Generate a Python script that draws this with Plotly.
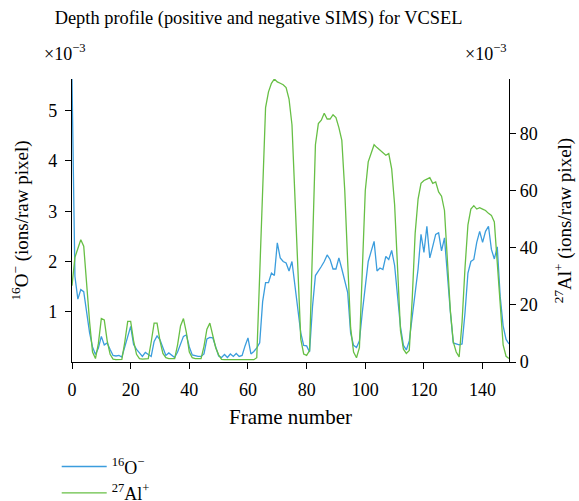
import plotly.graph_objects as go

frames = list(range(150))

o16 = [5.63, 1.7, 1.25, 1.44, 1.40, 1.0, 0.58, 0.3, 0.15, 0.28,
       0.51, 0.34, 0.38, 0.25, 0.13, 0.12, 0.13, 0.1, 0.3, 0.5,
       0.71, 0.35, 0.25, 0.18, 0.11, 0.19, 0.15, 0.11, 0.41, 0.52,
       0.44, 0.27, 0.13, 0.18, 0.13, 0.09, 0.2, 0.35, 0.51, 0.54,
       0.3, 0.14, 0.12, 0.11, 0.11, 0.16, 0.46, 0.49, 0.48, 0.3,
       0.12, 0.09, 0.15, 0.09, 0.16, 0.11, 0.17, 0.11, 0.13, 0.32,
       0.48, 0.16, 0.21, 0.28, 0.38, 1.2, 1.58, 1.58, 1.77, 1.72,
       2.37, 2.07, 2.0, 1.97, 1.81, 2.0, 1.51, 1.05, 0.58, 0.33,
       0.32, 0.2, 1.1, 1.72, 1.8, 1.9, 2.0, 2.13, 2.04, 1.85,
       1.85, 2.07, 1.85, 1.64, 1.38, 0.58, 0.33, 0.29, 0.42, 1.0,
       1.51, 2.0, 2.2, 2.4, 1.81, 1.87, 1.84, 2.1, 2.04, 2.22,
       1.92, 1.3, 0.7, 0.33, 0.24, 0.42, 0.9, 1.45, 1.85, 2.54,
       2.18, 2.7, 2.07, 2.3, 2.54, 2.57, 2.21, 2.47, 1.7, 1.0,
       0.38, 0.36, 0.34, 0.36, 0.98, 1.77, 2.0, 2.04, 2.38, 2.6,
       2.38, 2.6, 2.7, 2.24, 2.05, 2.29, 1.3, 0.72, 0.45, 0.36]

al27 = [26.7, 36.6, 39.7, 42.8, 40.5, 27.0, 14.0, 3.5, 1.2, 6.5,
        15.2, 14.7, 7.4, 2.7, 1.0, 0.8, 0.8, 0.9, 7.0, 14.2,
        14.2, 7.4, 2.7, 1.2, 1.0, 1.0, 1.2, 7.0, 13.6, 13.6,
        7.4, 3.0, 1.5, 1.2, 1.2, 1.2, 6.0, 12.6, 15.2, 10.3,
        3.5, 1.5, 1.2, 1.2, 1.2, 5.5, 11.5, 13.6, 9.7, 5.0,
        2.5, 0.9, 0.8, 0.8, 0.8, 0.8, 0.8, 0.8, 0.8, 0.8,
        0.8, 0.8, 0.8, 1.5, 30.0, 60.0, 89.0, 94.5, 97.5, 99.0,
        98.0, 97.5, 97.0, 96.0, 92.0, 83.0, 58.0, 27.0, 8.0, 2.8,
        2.3, 4.0, 42.0, 76.0, 83.4, 84.6, 87.0, 85.0, 85.0, 86.5,
        85.5, 82.0, 77.5, 60.0, 35.0, 12.0, 3.5, 1.5, 5.0, 33.0,
        60.0, 70.0, 73.4, 76.0, 75.0, 74.0, 73.0, 72.3, 72.9, 67.6,
        55.0, 30.0, 11.0, 4.5, 3.0, 4.0, 22.0, 45.0, 57.0, 62.5,
        63.5, 64.0, 64.5, 62.5, 63.0, 59.5, 58.0, 53.0, 37.0, 18.0,
        7.0, 3.5, 1.8, 14.0, 33.0, 48.0, 53.5, 54.7, 53.5, 54.0,
        53.5, 53.0, 52.0, 51.3, 49.0, 35.0, 18.0, 6.0, 2.0, 1.2]

x_ticks = [0, 20, 40, 60, 80, 100, 120, 140]
left_ticks = [1, 2, 3, 4, 5]
right_ticks = [0, 20, 40, 60, 80]

FONT = "Liberation Serif"
BLUE = "#3b9ddd"
GREEN = "#67bf45"

fig = go.Figure()
fig.add_trace(go.Scatter(x=frames, y=o16, mode="lines", name="<sup>16</sup>O<sup>−</sup>",
                         line=dict(color=BLUE, width=1.3), yaxis="y"))
fig.add_trace(go.Scatter(x=frames, y=al27, mode="lines", name="<sup>27</sup>Al<sup>+</sup>",
                         line=dict(color=GREEN, width=1.3), yaxis="y2"))

axis_common = dict(showgrid=False, zeroline=False, showline=True, linecolor="black",
                   linewidth=1.2, ticks="outside", ticklen=6, tickwidth=1.2,
                   tickcolor="black", tickfont=dict(family=FONT, size=18, color="black"),
                   automargin=False)

fig.update_layout(
    width=579, height=501,
    margin=dict(l=72, r=70, t=79, b=139, autoexpand=False),
    paper_bgcolor="white", plot_bgcolor="white",
    font=dict(family=FONT, size=18, color="black"),
    title=dict(text="Depth profile (positive and negative SIMS) for VCSEL",
               x=0.4465, xanchor="center", y=0.964, yanchor="middle",
               font=dict(family=FONT, size=18.4, color="black")),
    xaxis=dict(range=[0, 149], tickvals=x_ticks, ticklabelstandoff=5,
               title=dict(text="Frame number", font=dict(family=FONT, size=21), standoff=10),
               **axis_common),
    yaxis=dict(range=[0, max(o16)], tickvals=left_ticks, ticklabelstandoff=4,
               title=dict(text="<sup>16</sup>O<sup>−</sup> (ions/raw pixel)",
                          font=dict(family=FONT, size=19), standoff=14),
               **axis_common),
    yaxis2=dict(range=[0, max(al27)], tickvals=right_ticks, overlaying="y", side="right",
                title=dict(text="<sup>27</sup>Al<sup>+</sup> (ions/raw pixel)",
                           font=dict(family=FONT, size=19), standoff=20),
                **axis_common),
    legend=dict(x=-0.035, xanchor="left", y=-0.305, yanchor="top", itemwidth=45,
                tracegroupgap=0,
                font=dict(family=FONT, size=18), bgcolor="rgba(0,0,0,0)"),
    showlegend=True,
    annotations=[
        dict(text="×10<sup>−3</sup>", x=-0.068, xanchor="left", y=1.092, yanchor="middle",
             xref="paper", yref="paper", showarrow=False, font=dict(family=FONT, size=18)),
        dict(text="×10<sup>−3</sup>", x=1.0, xanchor="right", y=1.092, yanchor="middle",
             xref="paper", yref="paper", showarrow=False, font=dict(family=FONT, size=18)),
    ],
)

fig.write_html("out.html")
